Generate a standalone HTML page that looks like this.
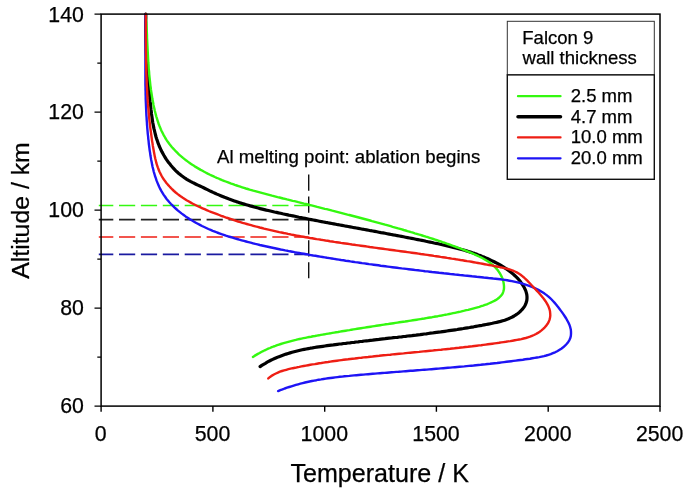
<!DOCTYPE html><html><head><meta charset="utf-8"><title>Falcon 9 ablation</title><style>html,body{margin:0;padding:0;background:#fff}svg{display:block}text{font-family:"Liberation Sans",sans-serif;fill:#000;stroke:#000;stroke-width:0.25px}</style></head><body>
<svg width="685" height="494" viewBox="0 0 685 494">
<rect width="685" height="494" fill="#fff"/>
<line x1="98.8" y1="205.5" x2="308.7" y2="205.5" stroke="#34f810" stroke-width="1.7" stroke-dashoffset="1.7" stroke-dasharray="16.2 5.7"/>
<line x1="98.8" y1="219.7" x2="308.7" y2="219.7" stroke="#222" stroke-width="1.7" stroke-dashoffset="1.7" stroke-dasharray="16.2 5.7"/>
<line x1="98.8" y1="237.0" x2="308.7" y2="237.0" stroke="#ee1e14" stroke-width="1.7" stroke-dashoffset="1.7" stroke-dasharray="16.2 5.7"/>
<line x1="98.8" y1="254.4" x2="308.7" y2="254.4" stroke="#1a1aa0" stroke-width="1.7" stroke-dashoffset="1.7" stroke-dasharray="16.2 5.7"/>
<line x1="308.7" y1="174.6" x2="308.7" y2="278.3" stroke="#111" stroke-width="1.4" stroke-dasharray="16.2 5.7"/>
<path d="M145.8 14.0L145.8 16.1L145.8 18.2L145.7 20.3L145.7 22.4L145.7 24.5L145.7 26.6L145.7 28.7L145.7 30.8L145.8 32.9L145.8 35.0L145.8 37.0L145.9 39.1L145.9 41.2L146.0 43.3L146.1 45.4L146.2 47.4L146.2 49.5L146.3 51.6L146.4 53.6L146.5 55.7L146.7 57.8L146.8 59.9L146.9 61.9L147.0 64.0L147.2 66.1L147.3 68.1L147.4 70.2L147.6 72.3L147.8 74.3L147.9 76.4L148.1 78.5L148.2 80.6L148.4 82.6L148.6 84.7L148.8 86.8L149.0 88.9L149.2 90.9L149.3 93.0L149.5 95.1L149.7 97.2L149.9 99.3L150.1 101.4L150.4 103.5L150.6 105.6L150.8 107.7L151.0 109.7L151.3 111.8L151.5 113.9L151.8 116.0L152.1 118.1L152.4 120.2L152.7 122.2L153.1 124.3L153.5 126.4L153.9 128.4L154.4 130.4L154.9 132.5L155.4 134.5L155.9 136.5L156.5 138.5L157.2 140.4L157.8 142.4L158.6 144.3L159.3 146.2L160.2 148.1L161.0 150.0L162.0 151.9L163.0 153.7L164.0 155.5L165.1 157.3L166.2 159.1L167.4 160.8L168.6 162.5L169.9 164.1L171.2 165.7L172.6 167.3L174.0 168.8L175.4 170.3L176.9 171.8L178.5 173.2L180.1 174.5L181.7 175.8L183.4 177.0L185.1 178.2L186.8 179.3L188.6 180.4L190.4 181.4L192.3 182.4L194.2 183.3L196.0 184.2L197.9 185.1L199.9 186.0L201.8 186.9L203.6 187.8L205.5 188.7L207.4 189.6L209.3 190.6L211.2 191.5L213.1 192.4L215.0 193.2L216.9 194.1L218.8 194.9L220.7 195.7L222.6 196.5L224.6 197.3L226.5 198.0L228.5 198.8L230.4 199.5L232.4 200.2L234.3 200.9L236.3 201.6L238.3 202.2L240.2 202.9L242.2 203.5L244.2 204.1L246.2 204.7L248.2 205.3L250.2 205.9L252.2 206.4L254.2 207.0L256.2 207.5L258.2 208.0L260.2 208.6L262.3 209.1L264.3 209.6L266.3 210.1L268.3 210.5L270.4 211.0L272.4 211.5L274.4 212.0L276.5 212.4L278.5 212.9L280.6 213.3L282.6 213.8L284.6 214.2L286.7 214.6L288.7 215.1L290.8 215.5L292.8 215.9L294.9 216.3L296.9 216.7L298.9 217.2L301.0 217.6L303.0 218.0L305.1 218.4L307.1 218.8L309.2 219.2L311.2 219.6L313.3 220.0L315.3 220.4L317.4 220.8L319.4 221.2L321.5 221.6L323.5 222.0L325.6 222.4L327.6 222.7L329.7 223.1L331.7 223.5L333.8 223.9L335.8 224.3L337.9 224.7L339.9 225.0L342.0 225.4L344.0 225.8L346.1 226.2L348.1 226.5L350.2 226.9L352.2 227.3L354.3 227.7L356.3 228.0L358.4 228.4L360.4 228.8L362.5 229.2L364.5 229.5L366.6 229.9L368.6 230.3L370.7 230.7L372.7 231.0L374.8 231.4L376.9 231.8L378.9 232.2L381.0 232.6L383.0 232.9L385.1 233.3L387.1 233.7L389.2 234.1L391.2 234.5L393.3 234.9L395.3 235.2L397.3 235.6L399.4 236.0L401.4 236.4L403.5 236.8L405.5 237.2L407.6 237.6L409.6 238.0L411.7 238.4L413.7 238.8L415.8 239.2L417.8 239.6L419.9 240.0L421.9 240.4L423.9 240.8L426.0 241.3L428.0 241.7L430.1 242.1L432.1 242.5L434.1 243.0L436.2 243.4L438.2 243.8L440.2 244.3L442.3 244.7L444.3 245.2L446.3 245.6L448.4 246.1L450.4 246.6L452.4 247.1L454.4 247.6L456.5 248.1L458.5 248.6L460.5 249.2L462.5 249.7L464.5 250.3L466.5 250.9L468.4 251.5L470.4 252.1L472.4 252.8L474.4 253.4L476.3 254.1L478.3 254.9L480.2 255.6L482.2 256.4L484.1 257.1L486.0 258.0L487.9 258.8L489.8 259.7L491.7 260.6L493.6 261.5L495.5 262.5L497.3 263.4L499.2 264.5L501.0 265.5L502.9 266.6L504.7 267.8L506.4 268.9L508.2 270.2L509.9 271.4L511.6 272.7L513.2 274.1L514.7 275.5L516.2 276.9L517.7 278.4L519.1 280.0L520.4 281.6L521.6 283.3L522.8 285.1L523.9 286.9L524.8 288.7L525.7 290.6L526.3 292.6L526.8 294.6L527.0 296.6L527.0 298.5L526.8 300.5L526.3 302.4L525.6 304.3L524.7 306.1L523.5 307.8L522.2 309.4L520.7 311.0L519.2 312.4L517.5 313.7L515.8 314.9L514.1 316.0L512.3 317.0L510.4 317.9L508.5 318.8L506.6 319.5L504.7 320.2L502.7 320.8L500.6 321.4L498.6 321.9L496.6 322.4L494.5 322.8L492.4 323.3L490.3 323.7L488.3 324.1L486.2 324.5L484.1 324.9L482.0 325.3L480.0 325.6L477.9 326.0L475.8 326.4L473.7 326.8L471.7 327.1L469.6 327.5L467.5 327.8L465.5 328.1L463.4 328.5L461.3 328.8L459.3 329.1L457.2 329.5L455.1 329.8L453.1 330.1L451.0 330.4L449.0 330.7L446.9 331.0L444.8 331.3L442.8 331.6L440.7 331.9L438.6 332.1L436.6 332.4L434.5 332.7L432.5 333.0L430.4 333.2L428.3 333.5L426.3 333.8L424.2 334.0L422.2 334.3L420.1 334.6L418.0 334.8L416.0 335.1L413.9 335.3L411.9 335.6L409.8 335.8L407.7 336.0L405.7 336.3L403.6 336.5L401.6 336.8L399.5 337.0L397.4 337.3L395.4 337.5L393.3 337.7L391.3 338.0L389.2 338.2L387.1 338.4L385.1 338.7L383.0 338.9L380.9 339.1L378.9 339.4L376.8 339.6L374.7 339.8L372.7 340.1L370.6 340.3L368.5 340.6L366.5 340.8L364.4 341.0L362.3 341.3L360.3 341.5L358.2 341.8L356.1 342.0L354.1 342.3L352.0 342.5L349.9 342.8L347.8 343.0L345.8 343.3L343.7 343.5L341.6 343.8L339.5 344.0L337.4 344.3L335.4 344.6L333.3 344.9L331.2 345.1L329.1 345.4L327.0 345.7L324.9 346.0L322.9 346.3L320.8 346.6L318.7 346.9L316.6 347.2L314.5 347.5L312.5 347.9L310.4 348.2L308.3 348.6L306.3 349.0L304.2 349.4L302.2 349.8L300.1 350.3L298.1 350.8L296.1 351.3L294.1 351.8L292.1 352.3L290.1 352.9L288.1 353.5L286.1 354.1L284.1 354.8L282.2 355.5L280.3 356.2L278.3 356.9L276.4 357.7L274.6 358.5L272.7 359.4L270.8 360.3L269.0 361.2L267.2 362.2L265.4 363.3L263.6 364.3L261.8 365.4L260.1 366.6" fill="none" stroke="#000" stroke-width="3.2" stroke-linecap="round" stroke-linejoin="round"/>
<path d="M145.7 13.9L145.9 15.9L146.0 17.9L146.1 19.9L146.3 21.8L146.4 23.8L146.5 25.8L146.6 27.7L146.7 29.7L146.8 31.6L146.9 33.6L147.0 35.5L147.0 37.4L147.1 39.4L147.2 41.3L147.3 43.3L147.4 45.2L147.5 47.1L147.6 49.0L147.7 51.0L147.8 52.9L147.9 54.8L148.0 56.7L148.1 58.7L148.2 60.6L148.3 62.5L148.5 64.4L148.6 66.4L148.7 68.3L148.9 70.2L149.1 72.1L149.2 74.0L149.4 76.0L149.6 77.9L149.8 79.8L150.0 81.7L150.2 83.7L150.4 85.6L150.7 87.5L150.9 89.4L151.2 91.4L151.5 93.3L151.8 95.2L152.1 97.2L152.4 99.1L152.8 101.1L153.2 103.0L153.5 105.0L153.9 106.9L154.4 108.8L154.8 110.8L155.3 112.7L155.8 114.6L156.3 116.5L156.9 118.4L157.5 120.3L158.1 122.2L158.7 124.0L159.4 125.8L160.2 127.7L160.9 129.4L161.7 131.2L162.6 132.9L163.4 134.6L164.4 136.3L165.3 138.0L166.3 139.6L167.4 141.2L168.5 142.7L169.6 144.2L170.8 145.7L172.0 147.2L173.3 148.6L174.6 150.0L175.9 151.4L177.2 152.7L178.6 154.1L180.0 155.4L181.5 156.6L183.0 157.9L184.5 159.1L186.0 160.3L187.5 161.4L189.1 162.6L190.7 163.7L192.3 164.8L194.0 165.8L195.6 166.9L197.3 167.9L199.0 168.9L200.7 169.9L202.5 170.8L204.2 171.8L206.0 172.7L207.7 173.6L209.5 174.5L211.3 175.3L213.1 176.1L214.9 177.0L216.7 177.8L218.5 178.5L220.3 179.3L222.1 180.1L223.9 180.8L225.7 181.5L227.5 182.2L229.4 182.9L231.2 183.6L233.0 184.2L234.8 184.9L236.7 185.5L238.5 186.1L240.3 186.7L242.2 187.3L244.0 187.9L245.9 188.5L247.7 189.0L249.6 189.6L251.4 190.1L253.3 190.7L255.2 191.2L257.0 191.7L258.9 192.2L260.7 192.7L262.6 193.2L264.5 193.7L266.3 194.2L268.2 194.7L270.1 195.2L272.0 195.7L273.8 196.1L275.7 196.6L277.6 197.1L279.5 197.5L281.3 198.0L283.2 198.5L285.1 198.9L287.0 199.4L288.9 199.8L290.8 200.3L292.6 200.8L294.5 201.2L296.4 201.7L298.3 202.2L300.2 202.6L302.1 203.1L304.0 203.6L305.9 204.0L307.7 204.5L309.6 205.0L311.5 205.4L313.4 205.9L315.3 206.4L317.2 206.9L319.1 207.3L321.0 207.8L322.9 208.3L324.8 208.8L326.7 209.2L328.5 209.7L330.4 210.2L332.3 210.7L334.2 211.1L336.1 211.6L338.0 212.1L339.9 212.6L341.8 213.1L343.7 213.6L345.6 214.1L347.5 214.6L349.3 215.0L351.2 215.5L353.1 216.0L355.0 216.5L356.9 217.0L358.8 217.5L360.7 218.0L362.5 218.5L364.4 219.0L366.3 219.5L368.2 220.0L370.1 220.5L372.0 221.1L373.8 221.6L375.7 222.1L377.6 222.6L379.5 223.1L381.3 223.6L383.2 224.1L385.1 224.7L387.0 225.2L388.8 225.7L390.7 226.2L392.6 226.8L394.4 227.3L396.3 227.8L398.2 228.4L400.0 228.9L401.9 229.4L403.7 230.0L405.6 230.5L407.4 231.1L409.3 231.6L411.1 232.2L413.0 232.7L414.8 233.3L416.7 233.8L418.5 234.4L420.4 234.9L422.2 235.5L424.1 236.1L425.9 236.7L427.7 237.2L429.6 237.8L431.4 238.4L433.2 239.0L435.1 239.6L436.9 240.2L438.8 240.8L440.6 241.4L442.4 242.1L444.3 242.7L446.1 243.3L447.9 244.0L449.8 244.6L451.6 245.3L453.4 246.0L455.3 246.6L457.1 247.3L458.9 248.0L460.8 248.7L462.6 249.5L464.4 250.2L466.3 250.9L468.1 251.7L470.0 252.4L471.8 253.2L473.7 254.0L475.5 254.8L477.3 255.6L479.1 256.5L480.9 257.3L482.6 258.2L484.3 259.2L486.0 260.2L487.7 261.2L489.3 262.3L490.8 263.4L492.3 264.6L493.7 265.9L495.1 267.2L496.4 268.6L497.6 270.0L498.7 271.6L499.8 273.2L500.7 274.8L501.6 276.6L502.4 278.4L503.0 280.3L503.5 282.3L503.8 284.2L504.0 286.1L504.0 288.0L503.8 289.8L503.3 291.6L502.7 293.3L501.8 294.8L500.6 296.2L499.3 297.5L497.7 298.8L496.1 299.9L494.3 300.9L492.5 301.8L490.6 302.7L488.7 303.5L486.8 304.3L485.0 304.9L483.1 305.6L481.2 306.2L479.4 306.8L477.5 307.3L475.6 307.8L473.8 308.3L471.9 308.8L470.0 309.3L468.2 309.8L466.3 310.2L464.4 310.7L462.5 311.1L460.6 311.6L458.7 312.0L456.9 312.4L455.0 312.8L453.1 313.2L451.2 313.6L449.3 314.0L447.4 314.4L445.4 314.7L443.5 315.1L441.6 315.5L439.7 315.8L437.8 316.2L435.9 316.5L434.0 316.8L432.1 317.2L430.1 317.5L428.2 317.8L426.3 318.1L424.4 318.5L422.5 318.8L420.5 319.1L418.6 319.4L416.7 319.7L414.8 320.0L412.8 320.3L410.9 320.6L409.0 320.9L407.1 321.2L405.1 321.5L403.2 321.7L401.3 322.0L399.4 322.3L397.4 322.6L395.5 322.9L393.6 323.2L391.7 323.5L389.8 323.8L387.8 324.1L385.9 324.3L384.0 324.6L382.1 324.9L380.2 325.2L378.3 325.5L376.3 325.8L374.4 326.1L372.5 326.4L370.6 326.7L368.7 327.0L366.8 327.3L364.9 327.6L362.9 327.9L361.0 328.2L359.1 328.5L357.2 328.8L355.3 329.1L353.4 329.4L351.5 329.7L349.6 330.1L347.6 330.4L345.7 330.7L343.8 331.0L341.9 331.3L340.0 331.6L338.1 332.0L336.1 332.3L334.2 332.6L332.3 332.9L330.4 333.3L328.5 333.6L326.5 333.9L324.6 334.3L322.7 334.6L320.8 334.9L318.9 335.3L316.9 335.6L315.0 336.0L313.1 336.3L311.1 336.7L309.2 337.0L307.3 337.4L305.4 337.8L303.5 338.2L301.5 338.6L299.6 339.0L297.7 339.4L295.8 339.9L293.9 340.3L292.0 340.8L290.2 341.3L288.3 341.8L286.4 342.3L284.5 342.8L282.7 343.4L280.8 344.0L279.0 344.6L277.2 345.2L275.4 345.9L273.6 346.5L271.8 347.2L270.0 348.0L268.2 348.7L266.5 349.5L264.7 350.3L263.0 351.2L261.3 352.0L259.6 353.0L257.9 353.9L256.2 354.9L254.5 355.9L252.9 356.9" fill="none" stroke="#34f810" stroke-width="2.4" stroke-linecap="round" stroke-linejoin="round"/>
<path d="M145.4 14.0L145.4 16.3L145.5 18.7L145.5 21.1L145.5 23.4L145.5 25.8L145.5 28.2L145.5 30.5L145.5 32.9L145.5 35.3L145.5 37.6L145.5 40.0L145.5 42.3L145.4 44.7L145.4 47.1L145.4 49.4L145.4 51.8L145.4 54.1L145.4 56.5L145.4 58.8L145.4 61.2L145.4 63.5L145.4 65.9L145.4 68.2L145.4 70.6L145.4 72.9L145.4 75.3L145.4 77.7L145.4 80.0L145.4 82.4L145.4 84.7L145.5 87.1L145.5 89.4L145.6 91.8L145.6 94.1L145.7 96.5L145.7 98.8L145.8 101.2L145.9 103.5L146.0 105.9L146.1 108.2L146.2 110.6L146.3 112.9L146.4 115.3L146.6 117.6L146.7 120.0L146.9 122.3L147.0 124.7L147.2 127.0L147.4 129.4L147.6 131.7L147.8 134.1L148.1 136.4L148.3 138.8L148.6 141.1L148.8 143.5L149.1 145.9L149.4 148.2L149.7 150.6L150.1 152.9L150.4 155.3L150.8 157.6L151.2 160.0L151.7 162.3L152.1 164.6L152.6 167.0L153.2 169.3L153.7 171.5L154.4 173.8L155.0 176.0L155.8 178.2L156.5 180.4L157.4 182.6L158.3 184.7L159.2 186.8L160.2 188.9L161.3 190.9L162.5 192.9L163.7 194.9L165.1 196.8L166.4 198.7L167.9 200.5L169.4 202.3L171.0 204.0L172.7 205.7L174.4 207.4L176.2 209.0L178.0 210.6L179.9 212.1L181.8 213.6L183.7 215.0L185.6 216.4L187.6 217.7L189.6 219.1L191.7 220.3L193.7 221.5L195.8 222.7L197.8 223.8L199.9 224.9L202.0 226.0L204.2 227.0L206.3 228.0L208.4 229.0L210.6 229.9L212.7 230.8L214.9 231.6L217.1 232.5L219.3 233.3L221.5 234.1L223.7 234.8L225.9 235.6L228.1 236.3L230.4 237.0L232.6 237.7L234.8 238.4L237.1 239.0L239.3 239.7L241.6 240.3L243.9 240.9L246.1 241.5L248.4 242.1L250.7 242.7L253.0 243.3L255.3 243.9L257.5 244.4L259.8 245.0L262.1 245.5L264.4 246.0L266.7 246.5L269.0 247.0L271.3 247.5L273.7 248.0L276.0 248.5L278.3 249.0L280.6 249.5L282.9 249.9L285.2 250.4L287.6 250.8L289.9 251.3L292.2 251.7L294.5 252.2L296.9 252.6L299.2 253.0L301.5 253.4L303.8 253.8L306.2 254.2L308.5 254.7L310.8 255.1L313.2 255.5L315.5 255.8L317.8 256.2L320.1 256.6L322.5 257.0L324.8 257.4L327.1 257.8L329.5 258.1L331.8 258.5L334.1 258.9L336.4 259.3L338.8 259.6L341.1 260.0L343.4 260.3L345.7 260.7L348.1 261.0L350.4 261.4L352.7 261.7L355.1 262.1L357.4 262.4L359.7 262.7L362.0 263.1L364.4 263.4L366.7 263.7L369.0 264.1L371.4 264.4L373.7 264.7L376.0 265.0L378.3 265.3L380.7 265.7L383.0 266.0L385.3 266.3L387.7 266.6L390.0 266.9L392.3 267.2L394.7 267.5L397.0 267.8L399.3 268.1L401.7 268.4L404.0 268.6L406.3 268.9L408.7 269.2L411.0 269.5L413.3 269.8L415.7 270.1L418.0 270.3L420.4 270.6L422.7 270.9L425.0 271.2L427.4 271.4L429.7 271.7L432.0 272.0L434.4 272.2L436.7 272.5L439.1 272.8L441.4 273.0L443.8 273.3L446.1 273.5L448.5 273.8L450.8 274.1L453.1 274.3L455.5 274.6L457.8 274.8L460.2 275.1L462.5 275.3L464.9 275.6L467.2 275.8L469.6 276.0L472.0 276.3L474.3 276.5L476.7 276.8L479.0 277.0L481.4 277.2L483.7 277.5L486.1 277.7L488.5 278.0L490.8 278.2L493.2 278.5L495.5 278.7L497.9 279.0L500.2 279.3L502.6 279.6L504.9 279.9L507.2 280.3L509.5 280.7L511.9 281.1L514.2 281.6L516.4 282.1L518.7 282.6L521.0 283.2L523.2 283.9L525.5 284.6L527.7 285.3L529.9 286.1L532.0 287.0L534.2 287.9L536.3 288.9L538.4 289.9L540.5 291.1L542.5 292.3L544.5 293.6L546.3 294.9L548.2 296.4L549.9 297.9L551.6 299.5L553.2 301.2L554.7 302.9L556.3 304.7L557.7 306.6L559.2 308.5L560.6 310.4L562.1 312.4L563.5 314.4L564.9 316.5L566.2 318.5L567.4 320.7L568.5 322.8L569.5 325.0L570.2 327.2L570.8 329.5L571.0 331.7L571.0 334.0L570.8 336.2L570.2 338.3L569.3 340.3L568.1 342.2L566.6 344.0L565.0 345.7L563.2 347.3L561.3 348.7L559.2 350.0L557.2 351.2L555.1 352.3L552.9 353.2L550.7 354.1L548.5 354.8L546.2 355.5L544.0 356.1L541.7 356.6L539.3 357.1L537.0 357.5L534.7 357.9L532.3 358.3L530.0 358.7L527.6 359.0L525.3 359.3L522.9 359.7L520.6 360.0L518.2 360.3L515.9 360.6L513.5 360.9L511.2 361.2L508.8 361.5L506.5 361.8L504.1 362.1L501.8 362.4L499.4 362.7L497.1 363.0L494.7 363.2L492.4 363.5L490.1 363.8L487.7 364.0L485.4 364.3L483.0 364.5L480.7 364.8L478.3 365.0L476.0 365.2L473.6 365.5L471.3 365.7L469.0 365.9L466.6 366.1L464.3 366.4L461.9 366.6L459.6 366.8L457.2 367.0L454.9 367.2L452.6 367.4L450.2 367.6L447.9 367.8L445.5 368.0L443.2 368.2L440.8 368.4L438.5 368.6L436.2 368.8L433.8 369.0L431.5 369.2L429.1 369.4L426.8 369.6L424.4 369.7L422.1 369.9L419.8 370.1L417.4 370.3L415.1 370.5L412.7 370.7L410.4 370.8L408.0 371.0L405.7 371.2L403.3 371.4L401.0 371.6L398.6 371.8L396.3 371.9L393.9 372.1L391.6 372.3L389.2 372.5L386.9 372.7L384.6 372.9L382.2 373.0L379.9 373.2L377.5 373.4L375.1 373.6L372.8 373.8L370.4 374.0L368.1 374.2L365.7 374.4L363.4 374.6L361.0 374.8L358.7 375.0L356.3 375.2L354.0 375.4L351.6 375.6L349.3 375.9L346.9 376.1L344.5 376.3L342.2 376.6L339.8 376.8L337.5 377.1L335.1 377.4L332.8 377.7L330.5 378.0L328.1 378.3L325.8 378.6L323.5 379.0L321.1 379.4L318.8 379.7L316.5 380.2L314.2 380.6L311.9 381.0L309.6 381.5L307.3 382.0L305.0 382.5L302.7 383.1L300.4 383.7L298.2 384.3L295.9 384.9L293.7 385.6L291.4 386.3L289.2 387.0L287.0 387.7L284.7 388.5L282.5 389.4L280.3 390.2L278.1 391.1" fill="none" stroke="#1e14f5" stroke-width="2.4" stroke-linecap="round" stroke-linejoin="round"/>
<path d="M145.8 14.0L145.8 16.2L145.8 18.5L145.8 20.7L145.8 22.9L145.8 25.1L145.8 27.4L145.8 29.6L145.8 31.8L145.8 34.1L145.8 36.3L145.8 38.5L145.9 40.8L145.9 43.0L145.9 45.3L145.9 47.5L145.9 49.7L145.9 52.0L146.0 54.2L146.0 56.5L146.0 58.7L146.1 60.9L146.1 63.2L146.2 65.4L146.2 67.7L146.3 69.9L146.3 72.1L146.4 74.4L146.5 76.6L146.6 78.9L146.7 81.1L146.7 83.3L146.8 85.6L147.0 87.8L147.1 90.0L147.2 92.3L147.3 94.5L147.5 96.7L147.6 98.9L147.8 101.2L147.9 103.4L148.1 105.6L148.3 107.8L148.5 110.0L148.7 112.3L148.9 114.5L149.1 116.7L149.3 118.9L149.5 121.1L149.8 123.3L150.0 125.5L150.3 127.8L150.6 130.0L150.9 132.2L151.2 134.4L151.5 136.6L151.8 138.8L152.1 141.1L152.5 143.3L152.8 145.5L153.2 147.7L153.6 150.0L154.0 152.2L154.4 154.4L154.8 156.6L155.3 158.8L155.9 161.0L156.4 163.2L157.1 165.3L157.8 167.4L158.6 169.5L159.4 171.5L160.4 173.5L161.4 175.5L162.5 177.4L163.7 179.3L165.0 181.1L166.4 182.9L167.8 184.6L169.3 186.3L170.8 187.9L172.4 189.5L174.0 191.0L175.7 192.5L177.4 193.9L179.2 195.2L181.0 196.6L182.8 197.8L184.7 199.0L186.6 200.2L188.5 201.3L190.4 202.4L192.4 203.5L194.4 204.5L196.4 205.5L198.4 206.5L200.5 207.4L202.5 208.3L204.6 209.2L206.6 210.1L208.7 211.0L210.8 211.8L212.9 212.6L215.0 213.4L217.1 214.2L219.2 215.0L221.3 215.8L223.4 216.5L225.5 217.3L227.6 218.0L229.7 218.7L231.9 219.4L234.0 220.1L236.1 220.8L238.2 221.5L240.4 222.1L242.5 222.8L244.7 223.4L246.8 224.0L249.0 224.6L251.1 225.2L253.3 225.8L255.4 226.4L257.6 226.9L259.7 227.5L261.9 228.0L264.1 228.6L266.2 229.1L268.4 229.6L270.6 230.1L272.8 230.6L274.9 231.1L277.1 231.6L279.3 232.1L281.5 232.5L283.7 233.0L285.9 233.4L288.0 233.9L290.2 234.3L292.4 234.8L294.6 235.2L296.8 235.6L299.0 236.0L301.2 236.4L303.4 236.8L305.6 237.2L307.8 237.6L310.0 238.0L312.2 238.3L314.4 238.7L316.6 239.1L318.9 239.4L321.1 239.8L323.3 240.1L325.5 240.5L327.7 240.8L329.9 241.2L332.1 241.5L334.3 241.9L336.5 242.2L338.7 242.5L341.0 242.9L343.2 243.2L345.4 243.5L347.6 243.8L349.8 244.1L352.0 244.5L354.2 244.8L356.4 245.1L358.7 245.4L360.9 245.7L363.1 246.0L365.3 246.3L367.5 246.6L369.7 247.0L371.9 247.3L374.2 247.6L376.4 247.9L378.6 248.2L380.8 248.5L383.0 248.8L385.2 249.1L387.4 249.4L389.7 249.7L391.9 250.0L394.1 250.3L396.3 250.6L398.5 250.9L400.7 251.2L402.9 251.5L405.2 251.8L407.4 252.1L409.6 252.4L411.8 252.7L414.0 253.0L416.2 253.3L418.4 253.6L420.7 254.0L422.9 254.3L425.1 254.6L427.3 254.9L429.5 255.2L431.7 255.5L433.9 255.9L436.1 256.2L438.3 256.5L440.6 256.9L442.8 257.2L445.0 257.5L447.2 257.9L449.4 258.2L451.6 258.6L453.8 258.9L456.0 259.3L458.2 259.6L460.4 260.0L462.6 260.3L464.8 260.7L467.0 261.1L469.3 261.4L471.5 261.8L473.7 262.2L475.9 262.6L478.1 263.0L480.3 263.4L482.5 263.8L484.7 264.2L486.9 264.6L489.1 265.0L491.3 265.4L493.5 265.8L495.7 266.3L497.9 266.7L500.1 267.2L502.3 267.6L504.4 268.1L506.6 268.6L508.7 269.2L510.8 269.9L512.9 270.6L514.9 271.5L516.8 272.4L518.7 273.5L520.6 274.7L522.3 276.1L524.0 277.5L525.7 279.1L527.3 280.7L528.9 282.3L530.5 284.0L532.1 285.7L533.6 287.4L535.2 289.0L536.7 290.6L538.3 292.3L539.8 294.0L541.3 295.7L542.7 297.4L544.1 299.3L545.5 301.2L546.7 303.1L547.8 305.1L548.7 307.1L549.5 309.2L550.0 311.3L550.2 313.5L550.3 315.7L550.0 317.8L549.5 319.9L548.7 321.9L547.6 323.8L546.3 325.6L544.8 327.3L543.2 328.9L541.5 330.4L539.7 331.7L537.9 332.9L536.0 334.0L534.0 335.0L532.0 335.8L530.0 336.6L527.9 337.3L525.8 338.0L523.6 338.5L521.4 339.1L519.2 339.5L517.0 339.9L514.8 340.3L512.5 340.7L510.3 341.1L508.1 341.4L505.8 341.8L503.6 342.1L501.3 342.4L499.1 342.8L496.9 343.1L494.6 343.4L492.4 343.7L490.1 344.0L487.9 344.3L485.7 344.6L483.4 344.9L481.2 345.2L479.0 345.4L476.8 345.7L474.5 346.0L472.3 346.3L470.1 346.5L467.9 346.8L465.6 347.0L463.4 347.3L461.2 347.5L459.0 347.8L456.8 348.0L454.5 348.3L452.3 348.5L450.1 348.8L447.9 349.0L445.7 349.2L443.4 349.4L441.2 349.7L439.0 349.9L436.8 350.1L434.6 350.3L432.4 350.6L430.2 350.8L427.9 351.0L425.7 351.2L423.5 351.4L421.3 351.6L419.1 351.9L416.9 352.1L414.7 352.3L412.4 352.5L410.2 352.7L408.0 352.9L405.8 353.1L403.6 353.4L401.4 353.6L399.2 353.8L396.9 354.0L394.7 354.2L392.5 354.4L390.3 354.7L388.1 354.9L385.9 355.1L383.6 355.3L381.4 355.5L379.2 355.8L377.0 356.0L374.8 356.2L372.6 356.5L370.3 356.7L368.1 357.0L365.9 357.2L363.7 357.4L361.4 357.7L359.2 357.9L357.0 358.2L354.8 358.5L352.5 358.7L350.3 359.0L348.1 359.3L345.9 359.5L343.6 359.8L341.4 360.1L339.2 360.4L336.9 360.7L334.7 361.0L332.5 361.3L330.3 361.6L328.1 362.0L325.8 362.3L323.6 362.6L321.4 363.0L319.2 363.3L317.0 363.7L314.8 364.1L312.5 364.4L310.3 364.8L308.1 365.2L305.9 365.6L303.7 366.0L301.5 366.4L299.3 366.9L297.1 367.3L295.0 367.8L292.8 368.2L290.6 368.7L288.4 369.2L286.3 369.8L284.1 370.4L282.0 371.0L279.9 371.7L277.9 372.6L275.9 373.5L273.9 374.5L272.0 375.6L270.1 376.9L268.3 378.4" fill="none" stroke="#ee1e14" stroke-width="2.4" stroke-linecap="round" stroke-linejoin="round"/>
<rect x="101.1" y="14.1" width="558.9" height="392.0" fill="none" stroke="#000" stroke-width="1.5"/>
<path d="M94.5 406.1 H101.1M97.3 357.1 H101.1M94.5 308.1 H101.1M97.3 259.1 H101.1M94.5 210.1 H101.1M97.3 161.1 H101.1M94.5 112.1 H101.1M97.3 63.1 H101.1M94.5 14.1 H101.1M101.1 406.1 V411.8M212.9 406.1 V411.8M324.7 406.1 V411.8M436.4 406.1 V411.8M548.2 406.1 V411.8M660.0 406.1 V411.8" stroke="#000" stroke-width="1.4" fill="none"/>
<text x="83.9" y="412.8" font-size="21.3" text-anchor="end">60</text>
<text x="83.9" y="314.8" font-size="21.3" text-anchor="end">80</text>
<text x="83.9" y="216.6" font-size="21.3" text-anchor="end">100</text>
<text x="83.9" y="119.1" font-size="21.3" text-anchor="end">120</text>
<text x="83.9" y="21.8" font-size="21.3" text-anchor="end">140</text>
<text x="100.7" y="440.8" font-size="21.3" text-anchor="middle">0</text>
<text x="212.5" y="440.8" font-size="21.3" text-anchor="middle">500</text>
<text x="324.3" y="440.8" font-size="21.3" text-anchor="middle">1000</text>
<text x="436.0" y="440.8" font-size="21.3" text-anchor="middle">1500</text>
<text x="547.8" y="440.8" font-size="21.3" text-anchor="middle">2000</text>
<text x="659.6" y="440.8" font-size="21.3" text-anchor="middle">2500</text>
<text x="379.7" y="482" font-size="25.1" text-anchor="middle">Temperature / K</text>
<text transform="translate(29.4 210.5) rotate(-90)" font-size="24.8" text-anchor="middle">Altitude / km</text>
<text x="217.0" y="162.8" font-size="18.65">Al melting point: ablation begins</text>
<rect x="507.3" y="21.3" width="147" height="53.6" fill="#fff" stroke="#333" stroke-width="1"/>
<rect x="507.3" y="74.9" width="147" height="104.4" fill="#fff" stroke="#111" stroke-width="1.4"/>
<text x="522.3" y="43.8" font-size="18.55">Falcon 9</text>
<text x="522.5" y="64.4" font-size="18.55">wall thickness</text>
<line x1="518" y1="96.2" x2="560.5" y2="96.2" stroke="#34f810" stroke-width="2.3" stroke-linecap="round"/>
<text x="570.7" y="101.7" font-size="18.55">2.5 mm</text>
<line x1="518" y1="116.8" x2="560.5" y2="116.8" stroke="#000" stroke-width="3.5" stroke-linecap="round"/>
<text x="570.7" y="122.6" font-size="18.55">4.7 mm</text>
<line x1="518" y1="137.4" x2="560.5" y2="137.4" stroke="#ee1e14" stroke-width="2.3" stroke-linecap="round"/>
<text x="570.7" y="143.4" font-size="18.55">10.0 mm</text>
<line x1="518" y1="158.3" x2="560.5" y2="158.3" stroke="#1e14f5" stroke-width="2.3" stroke-linecap="round"/>
<text x="570.7" y="164.3" font-size="18.55">20.0 mm</text>
</svg></body></html>
